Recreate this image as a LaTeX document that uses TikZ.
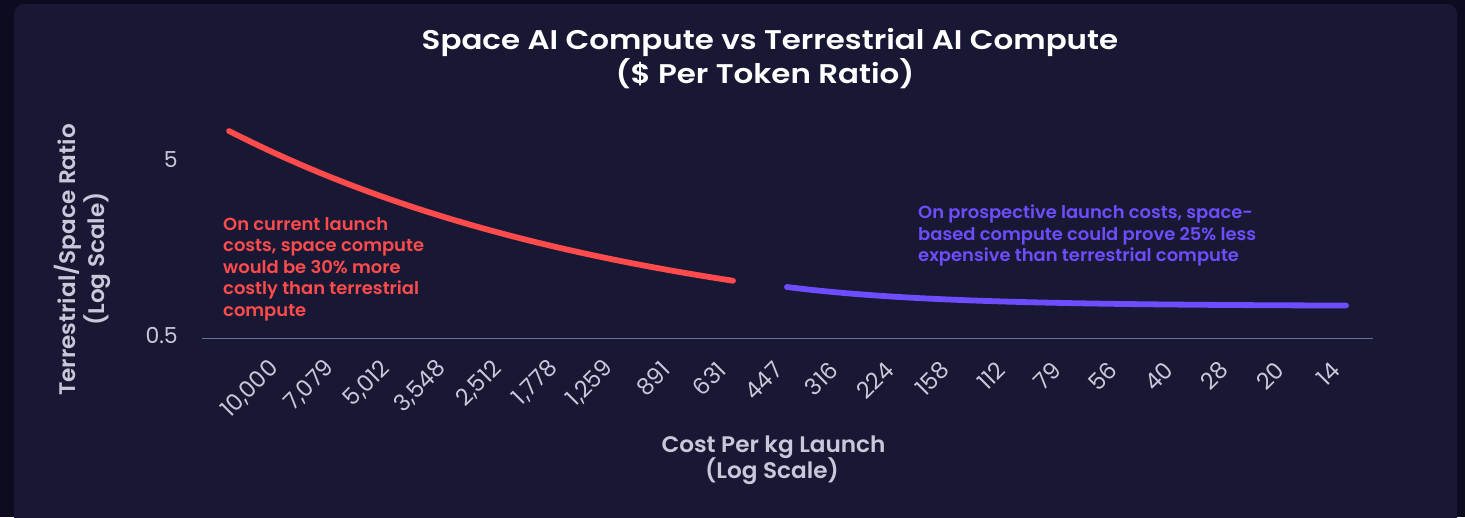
\documentclass[tikz,border=0pt]{standalone}
\usepackage{fontspec}
\setmainfont{Poppins}
\newfontfamily\titlefont[FakeStretch=1.145]{Poppins SemiBold}
\newfontfamily\notefont[FakeStretch=1.025]{Poppins SemiBold}
\newfontfamily\axfont[FakeStretch=1.03]{Poppins SemiBold}
\definecolor{outerbg}{HTML}{0C0B20}
\definecolor{panelbg}{HTML}{191834}
\definecolor{axisc}{HTML}{6E6E9C}
\definecolor{tickc}{HTML}{C8C8DA}
\definecolor{redc}{HTML}{FF4B4B}
\definecolor{bluec}{HTML}{6D4DFF}
\begin{document}
\begin{tikzpicture}[x=1pt,y=-1pt,
  titletext/.style={text=white,font=\titlefont\fontsize{27}{30}\selectfont,inner sep=0},
  axtitle/.style={text=tickc,font=\axfont\fontsize{22.5}{25}\selectfont,inner sep=0},
  ticklab/.style={text=tickc,font=\fontsize{22}{24}\selectfont,inner sep=0},
  xticklab/.style={text=tickc,font=\fontsize{23}{24}\selectfont,inner sep=0,rotate=45,anchor=south east},
  note/.style={font=\notefont\fontsize{17.5}{21.5}\selectfont,align=left,inner sep=0,anchor=north west},
  curve/.style={line width=5.8pt,line cap=round,line join=round}]
\useasboundingbox (0,0) rectangle (1465,517);
\fill[outerbg] (0,0) rectangle (1465,517);
\fill[panelbg,rounded corners=10pt] (14,4) rectangle (1457,540);
% title
\node[titletext,anchor=base] (t1) at (770,49.5) {Space AI Compute vs Terrestrial AI Compute};
\node[titletext,anchor=base] (t2) at (765,83.5) {(\$ Per Token Ratio)};
% y axis title
\node[axtitle,rotate=90,anchor=base] (yt1) at (75,260) {Terrestrial/Space Ratio};
\node[axtitle,rotate=90,anchor=base] (yt2) at (104,259) {(Log Scale)};
% y ticks
\node[ticklab,anchor=base east] (y5) at (178,167) {5};
\node[ticklab,anchor=base east] (y05) at (178,343.5) {0.5};
% axis line
\coordinate (axl) at (202,338.5);
\coordinate (axr) at (1372.5,338.5);
\draw[axisc,line width=1.6pt] (axl) -- (axr);
% x ticks
\foreach \lab [count=\i from 0] in {10{,}000,7{,}079,5{,}012,3{,}548,2{,}512,1{,}778,1{,}259,891,631,447,316,224,158,112,79,56,40,28,20,14}{
  \node[xticklab] (xt\i) at ({282+55.8*\i},372) {\lab};
}
% x axis title
\node[axtitle,anchor=base] (xtt1) at (773.5,452) {Cost Per kg Launch};
\node[axtitle,anchor=base] (xtt2) at (772,478) {(Log Scale)};
% curves
\draw[curve,redc] plot[domain=229:733,samples=80] (\x,{131+213.6*(1-exp(-0.0024*(\x-229)))});
\draw[curve,bluec] plot[domain=787:1346,samples=80] (\x,{287+19*(1-exp(-0.00665*(\x-787)))});
% annotations
\node[note,text=redc] (nred) at (223,217) {On current launch\\costs, space compute\\would be 30\% more\\costly than terrestrial\\compute};
\node[note,text=bluec] (nblue) at (918,205) {On prospective launch costs, space-\\based compute could prove 25\% less\\expensive than terrestrial compute};
\end{tikzpicture}
\end{document}
